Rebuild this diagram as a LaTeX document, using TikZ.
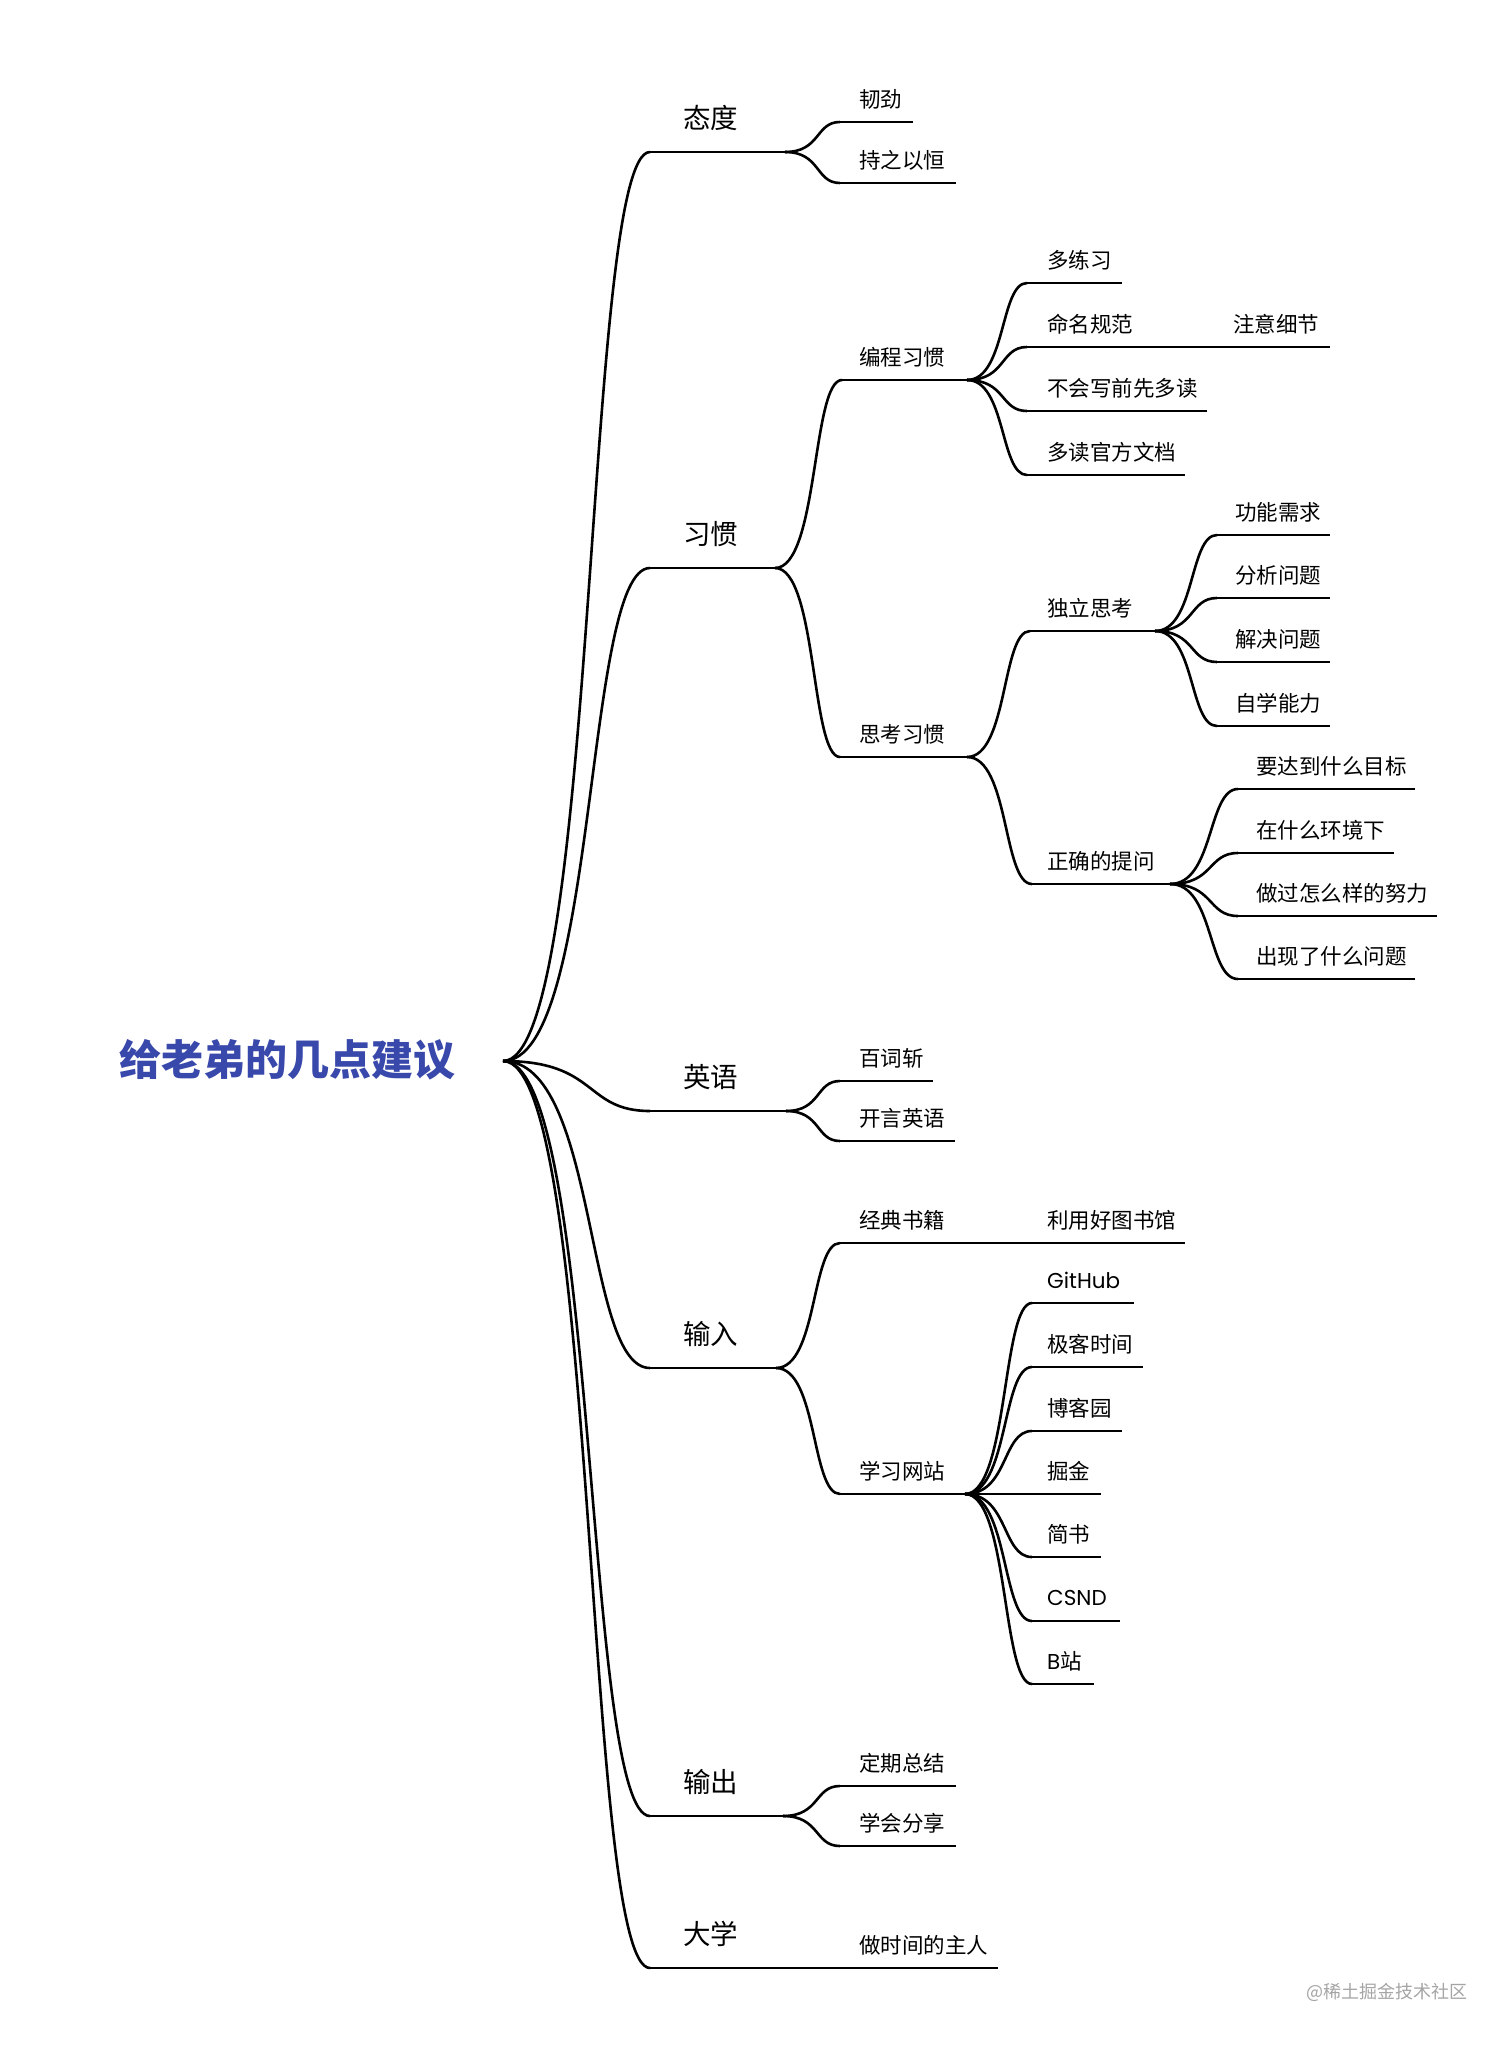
\documentclass[tikz,border=0pt]{standalone}
\usepackage{fontspec}
\newfontfamily\cjk{Noto Sans CJK SC}
\newfontfamily\latf{Poppins}
\usetikzlibrary{calc}
\definecolor{rootblue}{RGB}{57,73,171}
\definecolor{wmgray}{RGB}{165,165,165}
\tikzset{
 ln/.style={line width=2.6pt, black},
 branch/.style={to path={let \p1=(\tikztostart), \p2=(\tikztotarget) in .. controls ({\x1+0.65*(\x2-\x1)},\y1) and ({\x1+0.55*(\x2-\x1)},\y2) .. (\tikztotarget)}},
 lone/.style={font=\cjk\fontsize{27.5}{30}\selectfont, inner sep=0pt, anchor=west, yshift=34pt},
 ltwo/.style={font=\cjk\fontsize{21.5}{24}\selectfont, inner sep=0pt, anchor=west, yshift=23pt},
}
\newcommand\mm[7]{%
  \coordinate (#1-s) at (#2,#4);
  \coordinate (#1-e) at (#3,#4);
  \draw[ln] (#1-s) -- (#1-e);
  \node[#6] (#1) at (#5,#4) {#7};}
\begin{document}
\begin{tikzpicture}[x=1pt,y=-1pt]
\fill[white] (0,0) rectangle (1512,2046);
\useasboundingbox (0,0) rectangle (1512,2046);

% root
\node[font=\cjk\bfseries\fontsize{42}{46}\selectfont, text=rootblue, anchor=west, inner sep=0pt] (root) at (119,1060) {给老弟的几点建议};
\coordinate (rp) at (503,1061);

% level 1
\mm{ta}{650}{785}{152}{683}{lone}{态度}
\mm{xg}{650}{775}{568}{683}{lone}{习惯}
\mm{yy}{650}{786}{1111}{683}{lone}{英语}
\mm{sr}{650}{776}{1368}{683}{lone}{输入}
\mm{sc}{650}{783}{1816}{683}{lone}{输出}
\mm{dx}{650}{998}{1968}{683}{lone}{大学}
\node[ltwo] (zsj) at (859,1968) {做时间的主人};

\foreach \t in {ta,xg,yy,sr,sc,dx} \draw[ln] (rp) to[branch] (\t-s);

% 态度
\mm{rj}{840}{913}{122}{859}{ltwo}{韧劲}
\mm{cz}{840}{956}{183}{859}{ltwo}{持之以恒}
\foreach \t in {rj,cz} \draw[ln] (ta-e) to[branch] (\t-s);

% 习惯
\mm{bc}{842}{967}{380}{859}{ltwo}{编程习惯}
\mm{sk}{840}{967}{757}{859}{ltwo}{思考习惯}
\foreach \t in {bc,sk} \draw[ln] (xg-e) to[branch] (\t-s);

\mm{dlx}{1027}{1122}{283}{1047}{ltwo}{多练习}
\mm{mm}{1027}{1330}{347}{1047}{ltwo}{命名规范}
\node[ltwo] (zyxj) at (1233,347) {注意细节};
\mm{bh}{1027}{1207}{411}{1047}{ltwo}{不会写前先多读}
\mm{dd}{1027}{1185}{475}{1047}{ltwo}{多读官方文档}
\foreach \t in {dlx,mm,bh,dd} \draw[ln] (bc-e) to[branch] (\t-s);

\mm{dl}{1030}{1155}{631}{1047}{ltwo}{独立思考}
\mm{zq}{1032}{1170}{884}{1047}{ltwo}{正确的提问}
\foreach \t in {dl,zq} \draw[ln] (sk-e) to[branch] (\t-s);

\mm{gn}{1217}{1330}{535}{1235}{ltwo}{功能需求}
\mm{fx}{1217}{1330}{598}{1235}{ltwo}{分析问题}
\mm{jj}{1217}{1330}{662}{1235}{ltwo}{解决问题}
\mm{zx}{1217}{1330}{726}{1235}{ltwo}{自学能力}
\foreach \t in {gn,fx,jj,zx} \draw[ln] (dl-e) to[branch] (\t-s);

\mm{yd}{1238}{1415}{789}{1256}{ltwo}{要达到什么目标}
\mm{zs}{1238}{1394}{853}{1256}{ltwo}{在什么环境下}
\mm{zg}{1238}{1437}{916}{1256}{ltwo}{做过怎么样的努力}
\mm{cx}{1238}{1415}{979}{1256}{ltwo}{出现了什么问题}
\foreach \t in {yd,zs,zg,cx} \draw[ln] (zq-e) to[branch] (\t-s);

% 英语
\mm{bcz}{840}{933}{1081}{859}{ltwo}{百词斩}
\mm{ky}{840}{955}{1141}{859}{ltwo}{开言英语}
\foreach \t in {bcz,ky} \draw[ln] (yy-e) to[branch] (\t-s);

% 输入
\mm{jd}{840}{1185}{1243}{859}{ltwo}{经典书籍}
\node[ltwo] (lyh) at (1047,1243) {利用好图书馆};
\mm{xw}{840}{965}{1494}{859}{ltwo}{学习网站}
\foreach \t in {jd,xw} \draw[ln] (sr-e) to[branch] (\t-s);

\mm{gh}{1032}{1134}{1303}{1047}{ltwo}{{\latf GitHub}}
\mm{jk}{1032}{1143}{1367}{1047}{ltwo}{极客时间}
\mm{bk}{1032}{1122}{1431}{1047}{ltwo}{博客园}
\mm{jjn}{1032}{1101}{1494}{1047}{ltwo}{掘金}
\mm{js}{1032}{1101}{1557}{1047}{ltwo}{简书}
\mm{cs}{1032}{1120}{1621}{1047}{ltwo}{{\latf CSND}}
\mm{bz}{1032}{1094}{1684}{1047}{ltwo}{{\latf B}站}
\foreach \t in {gh,jk,bk,jjn,js,cs,bz} \draw[ln] (xw-e) to[branch] (\t-s);

% 输出
\mm{dq}{840}{956}{1786}{859}{ltwo}{定期总结}
\mm{xh}{840}{956}{1846}{859}{ltwo}{学会分享}
\foreach \t in {dq,xh} \draw[ln] (sc-e) to[branch] (\t-s);

% watermark
\node[font=\cjk\fontsize{18}{20}\selectfont, text=wmgray, anchor=west, inner sep=0pt] (wm) at (1306,1992) {@稀土掘金技术社区};
\end{tikzpicture}
\end{document}
